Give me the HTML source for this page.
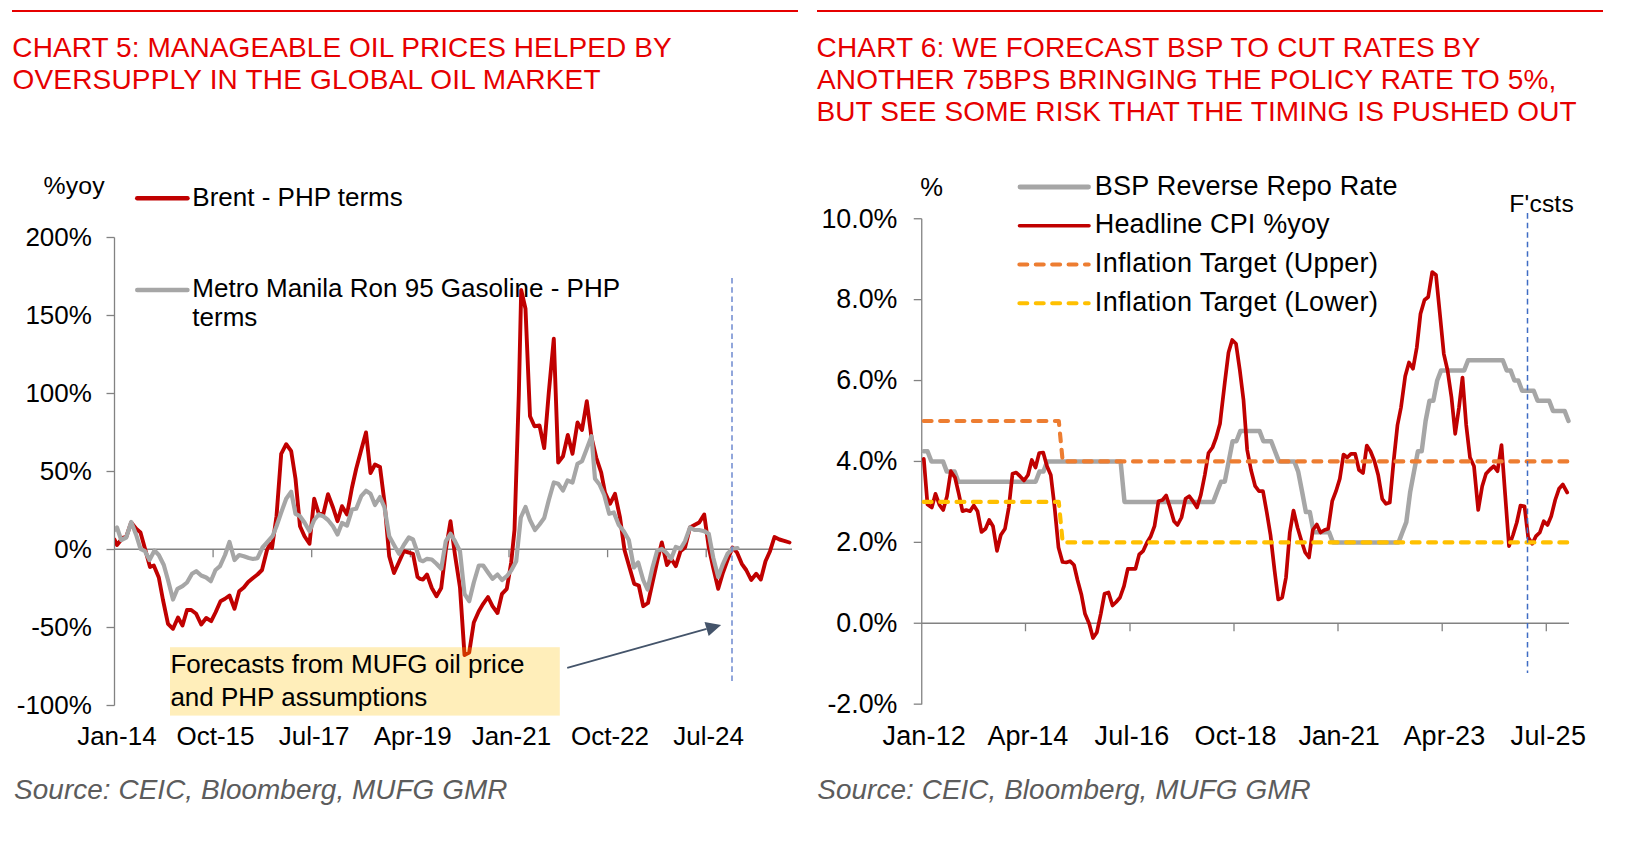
<!DOCTYPE html>
<html lang="en"><head><meta charset="utf-8"><title>Charts 5 and 6</title>
<style>
html,body{margin:0;padding:0;background:#fff;}
body{width:1628px;height:842px;overflow:hidden;font-family:"Liberation Sans",Arial,sans-serif;}
svg{display:block;}
text{font-family:"Liberation Sans",Arial,sans-serif;}
.t{fill:#e60000;}
.c{fill:#000;}
.s{fill:#5c5c5c;font-style:italic;}
.ax{stroke:#828282;stroke-width:1.3;fill:none;}
.ln{fill:none;stroke-linejoin:round;stroke-linecap:round;}
</style></head><body>
<svg width="1628" height="842" viewBox="0 0 1628 842">
<rect width="1628" height="842" fill="#fff"/>

<rect x="12" y="10" width="786" height="2" fill="#e60000"/>
<rect x="817" y="10" width="786" height="2" fill="#e60000"/>
<text class="t" x="12.33" y="56.80" font-size="28" textLength="659.29">CHART 5: MANAGEABLE OIL PRICES HELPED BY</text>
<text class="t" x="12.42" y="88.70" font-size="28" textLength="588.12">OVERSUPPLY IN THE GLOBAL OIL MARKET</text>
<text class="t" x="816.48" y="56.80" font-size="28" textLength="663.84">CHART 6: WE FORECAST BSP TO CUT RATES BY</text>
<text class="t" x="816.95" y="88.70" font-size="28" textLength="739.37">ANOTHER 75BPS BRINGING THE POLICY RATE TO 5%,</text>
<text class="t" x="816.40" y="120.70" font-size="28" textLength="760.24">BUT SEE SOME RISK THAT THE TIMING IS PUSHED OUT</text>
<path class="ax" d="M114.5,237.5V705.5"/>
<path class="ax" d="M114.5,549.25H792"/>
<path class="ax" d="M106.5,237.5H114.5"/>
<text class="c" x="91.90" y="246.10" font-size="26" text-anchor="end">200%</text>
<path class="ax" d="M106.5,315.5H114.5"/>
<text class="c" x="91.90" y="324.10" font-size="26" text-anchor="end">150%</text>
<path class="ax" d="M106.5,393.5H114.5"/>
<text class="c" x="91.90" y="402.10" font-size="26" text-anchor="end">100%</text>
<path class="ax" d="M106.5,471.5H114.5"/>
<text class="c" x="91.90" y="480.10" font-size="26" text-anchor="end">50%</text>
<path class="ax" d="M106.5,549.5H114.5"/>
<text class="c" x="91.90" y="558.10" font-size="26" text-anchor="end">0%</text>
<path class="ax" d="M106.5,627.5H114.5"/>
<text class="c" x="91.90" y="636.10" font-size="26" text-anchor="end">-50%</text>
<path class="ax" d="M106.5,705.5H114.5"/>
<text class="c" x="91.90" y="714.10" font-size="26" text-anchor="end">-100%</text>
<text class="c" x="116.90" y="744.60" font-size="26" text-anchor="middle">Jan-14</text>
<path class="ax" d="M213.1,549.25v8"/>
<text class="c" x="215.52" y="744.60" font-size="26" text-anchor="middle">Oct-15</text>
<path class="ax" d="M311.7,549.25v8"/>
<text class="c" x="314.14" y="744.60" font-size="26" text-anchor="middle">Jul-17</text>
<path class="ax" d="M410.4,549.25v8"/>
<text class="c" x="412.76" y="744.60" font-size="26" text-anchor="middle">Apr-19</text>
<path class="ax" d="M509.0,549.25v8"/>
<text class="c" x="511.38" y="744.60" font-size="26" text-anchor="middle">Jan-21</text>
<path class="ax" d="M607.6,549.25v8"/>
<text class="c" x="610.00" y="744.60" font-size="26" text-anchor="middle">Oct-22</text>
<path class="ax" d="M706.2,549.25v8"/>
<text class="c" x="708.62" y="744.60" font-size="26" text-anchor="middle">Jul-24</text>
<text class="c" x="43.62" y="193.90" font-size="24.8" textLength="60.93">%yoy</text>
<path class="ln" stroke="#c00000" stroke-width="4.4" d="M137.2,198.3H187.5"/>
<text class="c" x="192.30" y="205.80" font-size="26" text-anchor="start">Brent - PHP terms</text>
<path class="ln" stroke="#a6a6a6" stroke-width="4.4" d="M137.2,290H187.5"/>
<text class="c" x="192.30" y="297.00" font-size="26" text-anchor="start">Metro Manila Ron 95 Gasoline - PHP</text>
<text class="c" x="192.30" y="326.40" font-size="26" text-anchor="start">terms</text>
<clipPath id="cl"><rect x="114.9" y="200" width="700" height="520"/></clipPath>
<g clip-path="url(#cl)"><polyline class="ln" stroke="#c00000" stroke-width="3.9" points="114.5,539.5 117.0,545.0 122.5,538.0 126.2,537.0 131.2,522.5 136.2,528.8 140.5,532.5 145.0,548.8 150.0,567.0 153.8,565.5 158.8,577.5 163.0,600.0 168.0,623.8 173.0,628.8 178.0,617.5 182.5,625.5 187.0,610.0 191.2,610.0 196.2,613.8 201.2,624.5 206.2,618.0 211.2,621.2 215.5,612.5 220.5,601.2 225.0,598.8 229.5,595.5 234.5,608.8 239.2,591.2 243.8,587.5 248.2,582.0 253.0,578.0 257.5,574.5 262.0,570.0 267.0,550.0 270.0,543.8 272.0,548.0 276.5,516.2 281.2,453.8 286.2,444.2 291.2,451.2 295.5,478.8 300.0,526.2 304.5,536.2 309.5,543.8 314.2,498.8 318.8,513.8 323.2,514.5 328.0,494.2 333.0,507.5 337.5,521.2 342.0,506.2 347.0,514.5 352.0,487.5 356.2,468.8 361.2,450.0 366.0,432.5 370.5,473.0 375.0,464.5 380.0,467.0 384.5,502.5 389.2,556.2 394.0,573.0 399.0,562.0 403.8,551.2 408.8,552.5 413.0,553.8 417.5,577.0 420.0,578.8 423.0,579.5 427.0,574.5 431.8,588.0 436.5,596.2 441.2,588.0 445.8,550.0 450.5,521.2 455.0,555.0 460.0,587.5 464.5,655.0 469.2,652.5 473.8,622.5 478.8,611.2 483.2,603.8 488.0,597.0 492.5,606.2 497.5,613.0 502.0,593.8 506.8,588.8 511.2,562.5 514.5,530.0 518.8,395.0 521.2,290.0 525.5,308.8 530.0,416.2 534.5,426.2 539.5,425.5 544.2,448.0 548.8,392.5 553.8,338.8 558.2,462.5 563.0,456.2 567.8,435.0 572.5,453.8 577.5,422.5 582.0,430.0 586.8,401.2 591.5,437.5 596.2,457.5 601.2,472.5 605.0,492.5 610.0,503.8 615.0,493.8 620.0,517.5 624.5,550.0 629.5,567.5 634.2,583.8 638.8,585.5 643.2,606.2 648.0,603.0 652.5,582.5 657.5,560.0 661.8,542.5 667.0,565.0 671.2,558.8 675.8,566.2 680.5,551.2 685.0,547.5 690.0,527.5 694.5,525.0 699.2,522.5 704.2,514.5 708.8,547.5 713.2,567.5 718.2,588.8 723.0,572.5 727.5,560.0 732.5,547.5 737.0,552.5 741.8,563.8 746.2,570.0 751.2,580.0 756.2,573.8 760.8,579.5 765.5,561.2 770.0,551.2 774.5,537.0 779.5,539.5 784.2,540.8 789.5,542.5"/>
<polyline class="ln" stroke="#a6a6a6" stroke-width="4.2" points="114.5,530.0 117.0,527.5 121.2,540.0 126.2,537.5 131.2,522.0 136.2,535.0 140.5,548.8 145.0,551.2 149.5,560.0 154.5,550.5 158.8,555.0 163.8,565.0 168.0,580.0 173.0,599.5 177.5,588.8 182.5,586.2 187.0,582.5 192.0,573.8 196.2,571.2 201.2,575.5 206.2,577.5 210.8,581.2 215.5,570.0 220.0,566.2 225.0,555.0 229.5,542.0 234.5,560.0 239.2,555.0 243.8,556.2 248.8,558.0 253.0,559.0 257.5,558.2 262.5,547.5 267.0,542.5 272.5,536.2 276.5,526.2 281.2,512.5 286.2,498.8 291.2,491.8 295.5,513.8 300.0,516.2 304.5,522.5 309.5,531.2 314.2,520.0 318.8,514.5 323.2,516.2 328.0,520.0 333.0,526.2 337.5,534.5 342.0,523.0 347.0,525.5 352.0,509.5 356.2,508.8 361.2,496.2 366.0,490.8 370.5,493.8 375.0,505.0 380.0,497.0 384.5,507.5 389.2,536.2 394.0,545.0 399.0,553.8 403.8,545.0 408.8,537.5 413.0,539.5 417.5,552.5 420.0,560.0 423.0,561.2 427.0,558.8 431.8,559.5 436.5,563.8 441.2,568.8 445.8,541.2 450.5,533.8 455.0,541.2 460.0,551.2 464.5,593.8 469.2,601.2 473.8,582.5 478.8,565.5 483.2,565.5 488.0,572.5 492.5,578.8 497.5,574.5 502.0,580.0 506.8,576.2 511.2,570.5 516.2,561.2 520.8,517.5 525.5,507.0 530.0,520.0 535.0,530.0 539.5,524.5 544.2,518.0 548.8,500.0 553.8,482.5 558.2,483.8 563.0,490.5 567.5,480.5 572.5,482.5 577.5,463.8 582.0,461.2 586.8,448.8 591.5,436.2 595.0,478.8 599.5,484.5 604.2,495.0 609.2,513.8 613.8,512.5 618.8,525.0 623.8,531.2 628.8,540.0 633.8,567.5 638.2,562.5 643.2,580.0 647.5,589.5 652.5,567.5 657.0,551.2 661.8,548.8 666.2,552.5 671.2,558.8 675.8,547.0 680.5,548.8 685.0,541.2 690.0,527.5 694.5,530.0 699.2,530.0 704.2,531.2 708.8,533.8 713.2,557.5 718.2,577.0 723.0,563.8 727.5,553.8 732.5,548.8 737.5,548.0"/></g>
<path d="M732,278V681" stroke="#6d89d0" stroke-width="1.5" stroke-dasharray="5.6 3.647" fill="none"/>
<rect x="170" y="647.2" width="389.8" height="68.4" fill="rgb(255,192,0)" fill-opacity="0.27"/>
<text class="c" x="170.40" y="673.00" font-size="26" text-anchor="start">Forecasts from MUFG oil price</text>
<text class="c" x="170.40" y="705.50" font-size="26" text-anchor="start">and PHP assumptions</text>
<path d="M567.2,667.9L706.6,628.9" stroke="#44546a" stroke-width="1.7" fill="none"/>
<path d="M721.1,624.9L704.5,621.9L708.7,636Z" fill="#44546a"/>
<text class="s" x="14.11" y="798.60" font-size="27.9" textLength="493.25">Source: CEIC, Bloomberg, MUFG GMR</text>
<path class="ax" d="M921.75,218.75V704.5"/>
<path class="ax" d="M921.75,623.25H1569"/>
<path class="ax" d="M913.75,218.75H921.75"/>
<text class="c" x="897.40" y="227.55" font-size="26.8" text-anchor="end">10.0%</text>
<path class="ax" d="M913.75,299.65H921.75"/>
<text class="c" x="897.40" y="308.45" font-size="26.8" text-anchor="end">8.0%</text>
<path class="ax" d="M913.75,380.55H921.75"/>
<text class="c" x="897.40" y="389.35" font-size="26.8" text-anchor="end">6.0%</text>
<path class="ax" d="M913.75,461.45H921.75"/>
<text class="c" x="897.40" y="470.25" font-size="26.8" text-anchor="end">4.0%</text>
<path class="ax" d="M913.75,542.35H921.75"/>
<text class="c" x="897.40" y="551.15" font-size="26.8" text-anchor="end">2.0%</text>
<path class="ax" d="M913.75,623.25H921.75"/>
<text class="c" x="897.40" y="632.05" font-size="26.8" text-anchor="end">0.0%</text>
<path class="ax" d="M913.75,704.15H921.75"/>
<text class="c" x="897.40" y="712.95" font-size="26.8" text-anchor="end">-2.0%</text>
<text class="c" x="882.58" y="744.60" font-size="27" textLength="83.28">Jan-12</text>
<path class="ax" d="M1025.5,623.25v8"/>
<text class="c" x="987.45" y="744.60" font-size="27" textLength="80.84">Apr-14</text>
<path class="ax" d="M1130.0,623.25v8"/>
<text class="c" x="1094.58" y="744.60" font-size="27" textLength="74.61">Jul-16</text>
<path class="ax" d="M1234.0,623.25v8"/>
<text class="c" x="1194.47" y="744.60" font-size="27" textLength="81.95">Oct-18</text>
<path class="ax" d="M1338.0,623.25v8"/>
<text class="c" x="1298.58" y="744.60" font-size="27" textLength="81.24">Jan-21</text>
<path class="ax" d="M1442.2,623.25v8"/>
<text class="c" x="1403.45" y="744.60" font-size="27" textLength="81.74">Apr-23</text>
<path class="ax" d="M1546.3,623.25v8"/>
<text class="c" x="1510.60" y="744.60" font-size="27" textLength="75.31">Jul-25</text>
<text class="c" x="920.29" y="195.70" font-size="25.6" textLength="23.42">%</text>
<polyline class="ln" stroke="#a6a6a6" stroke-width="4.5" points="923.7,451.3 927.5,451.3 931.4,461.4 935.3,461.4 939.1,461.4 943.0,461.4 946.8,471.6 950.7,471.6 954.6,471.6 958.4,481.7 962.3,481.7 966.2,481.7 970.0,481.7 973.9,481.7 977.7,481.7 981.6,481.7 985.5,481.7 989.3,481.7 993.2,481.7 997.0,481.7 1000.9,481.7 1004.8,481.7 1008.6,481.7 1012.5,481.7 1016.3,481.7 1020.2,481.7 1024.1,481.7 1027.9,481.7 1031.8,481.7 1035.6,481.7 1039.5,471.6 1043.4,471.6 1047.2,461.4 1051.1,461.4 1055.0,461.4 1058.8,461.4 1062.7,461.4 1066.5,461.4 1070.4,461.4 1074.3,461.4 1078.1,461.4 1082.0,461.4 1085.8,461.4 1089.7,461.4 1093.6,461.4 1097.4,461.4 1101.3,461.4 1105.1,461.4 1109.0,461.4 1112.9,461.4 1116.7,461.4 1120.6,461.4 1124.5,501.9 1128.3,501.9 1132.2,501.9 1136.0,501.9 1139.9,501.9 1143.8,501.9 1147.6,501.9 1151.5,501.9 1155.3,501.9 1159.2,501.9 1163.1,501.9 1166.9,501.9 1170.8,501.9 1174.6,501.9 1178.5,501.9 1182.4,501.9 1186.2,501.9 1190.1,501.9 1194.0,501.9 1197.8,501.9 1201.7,501.9 1205.5,501.9 1209.4,501.9 1213.3,501.9 1217.1,491.8 1221.0,481.7 1224.8,481.7 1228.7,461.4 1232.6,441.2 1236.4,441.2 1240.3,431.1 1244.1,431.1 1248.0,431.1 1251.9,431.1 1255.7,431.1 1259.6,431.1 1263.4,441.2 1267.3,441.2 1271.2,441.2 1275.0,451.3 1278.9,461.4 1282.8,461.4 1286.6,461.4 1290.5,461.4 1294.3,461.4 1298.2,471.6 1302.1,491.8 1305.9,512.0 1309.8,512.0 1313.6,532.2 1317.5,532.2 1321.4,532.2 1325.2,532.2 1329.1,532.2 1332.9,542.4 1336.8,542.4 1340.7,542.4 1344.5,542.4 1348.4,542.4 1352.3,542.4 1356.1,542.4 1360.0,542.4 1363.8,542.4 1367.7,542.4 1371.6,542.4 1375.4,542.4 1379.3,542.4 1383.1,542.4 1387.0,542.4 1390.9,542.4 1394.7,542.4 1398.6,542.4 1402.4,532.2 1406.3,522.1 1410.2,491.8 1414.0,471.6 1417.9,451.3 1421.7,451.3 1425.6,421.0 1429.5,400.8 1433.3,400.8 1437.2,380.5 1441.1,370.4 1444.9,370.4 1448.8,370.4 1452.6,370.4 1456.5,370.4 1460.4,370.4 1464.2,370.4 1468.1,360.3 1471.9,360.3 1475.8,360.3 1479.7,360.3 1483.5,360.3 1487.4,360.3 1491.2,360.3 1495.1,360.3 1499.0,360.3 1502.8,360.3 1506.7,370.4 1510.6,370.4 1514.4,380.5 1518.3,380.5 1522.1,390.7 1526.0,390.7 1529.9,390.7 1533.7,390.7 1537.6,400.8 1541.4,400.8 1545.3,400.8 1549.2,400.8 1553.0,410.9 1556.9,410.9 1560.7,410.9 1564.6,410.9 1568.5,421.0"/>
<polyline class="ln" stroke="#c00000" stroke-width="3.7" points="923.8,458.8 927.5,504.5 931.8,507.5 935.5,493.8 939.5,505.0 943.2,510.0 947.0,496.2 950.8,471.2 955.0,477.5 958.8,493.8 962.5,511.2 966.2,510.0 970.0,511.2 973.8,505.5 977.5,511.2 981.5,532.0 985.5,528.8 989.2,520.0 993.0,526.2 997.0,550.8 1000.8,535.0 1005.0,528.8 1008.8,507.5 1012.5,473.8 1016.2,472.5 1020.0,476.2 1024.0,480.5 1028.0,475.0 1031.8,460.0 1035.5,467.5 1039.2,453.0 1043.2,452.5 1047.0,466.2 1050.8,475.0 1054.5,506.2 1058.5,547.5 1062.5,562.0 1066.2,562.5 1070.0,561.2 1074.0,565.0 1077.5,580.0 1081.5,595.0 1085.0,613.8 1089.2,623.8 1093.0,638.0 1096.8,632.5 1100.8,613.8 1104.5,593.8 1108.5,592.5 1112.5,605.5 1116.2,602.0 1120.0,597.5 1124.0,586.2 1127.8,568.8 1131.5,568.8 1135.5,568.8 1139.2,554.5 1143.0,551.2 1147.0,542.5 1150.8,536.2 1154.5,526.2 1158.5,501.2 1162.5,500.0 1166.2,495.5 1170.0,507.5 1174.0,521.2 1177.5,525.0 1181.5,517.5 1185.5,498.8 1189.2,496.2 1193.0,501.2 1197.0,507.5 1200.8,495.0 1204.8,475.0 1208.5,453.0 1212.5,447.5 1216.2,437.5 1220.0,423.8 1221.0,415.0 1224.8,382.5 1228.5,352.5 1232.2,340.0 1236.0,343.8 1239.8,370.0 1243.5,400.0 1247.2,450.0 1251.0,470.0 1255.2,486.2 1259.0,491.2 1263.0,491.2 1266.8,512.5 1270.5,535.0 1274.5,570.0 1278.2,599.5 1282.2,597.5 1286.0,577.5 1289.8,532.5 1293.5,510.5 1297.5,527.5 1301.2,540.0 1305.2,552.5 1309.0,557.5 1312.8,530.0 1316.8,524.5 1320.5,532.5 1324.5,530.0 1328.2,528.8 1332.2,501.2 1336.0,491.2 1339.8,478.8 1343.5,454.5 1347.2,457.5 1351.0,453.8 1355.2,453.8 1359.0,470.0 1363.0,473.0 1366.8,445.5 1370.5,451.2 1374.5,461.2 1378.2,475.0 1382.2,498.8 1386.0,503.8 1389.8,502.5 1393.5,462.5 1397.5,425.0 1401.0,407.5 1405.2,376.2 1409.0,362.5 1413.0,368.8 1416.8,347.5 1420.5,313.8 1424.5,300.0 1428.2,297.0 1432.2,272.0 1436.0,275.0 1440.0,315.0 1443.8,353.8 1447.5,370.0 1451.5,397.5 1455.2,433.8 1459.0,407.5 1462.5,377.5 1466.2,425.0 1470.0,457.5 1474.0,466.2 1478.2,510.0 1482.2,486.2 1486.0,473.8 1490.0,469.5 1493.8,466.2 1497.5,471.2 1501.5,445.0 1505.2,495.0 1509.0,546.2 1513.0,535.0 1516.8,522.5 1520.5,505.5 1524.5,506.2 1528.2,537.5 1532.2,543.8 1536.0,536.2 1539.8,532.5 1543.8,521.2 1547.5,525.0 1551.2,516.2 1555.2,500.0 1559.0,488.8 1562.8,484.5 1567.2,492.5"/>
<polyline class="ln" stroke="#ed7d31" stroke-width="4.1" stroke-dasharray="7.9 8.5" points="923.7,421.0 927.5,421.0 931.4,421.0 935.3,421.0 939.1,421.0 943.0,421.0 946.8,421.0 950.7,421.0 954.6,421.0 958.4,421.0 962.3,421.0 966.2,421.0 970.0,421.0 973.9,421.0 977.7,421.0 981.6,421.0 985.5,421.0 989.3,421.0 993.2,421.0 997.0,421.0 1000.9,421.0 1004.8,421.0 1008.6,421.0 1012.5,421.0 1016.3,421.0 1020.2,421.0 1024.1,421.0 1027.9,421.0 1031.8,421.0 1035.6,421.0 1039.5,421.0 1043.4,421.0 1047.2,421.0 1051.1,421.0 1055.0,421.0 1058.8,421.0 1062.7,461.4 1066.5,461.4 1070.4,461.4 1074.3,461.4 1078.1,461.4 1082.0,461.4 1085.8,461.4 1089.7,461.4 1093.6,461.4 1097.4,461.4 1101.3,461.4 1105.1,461.4 1109.0,461.4 1112.9,461.4 1116.7,461.4 1120.6,461.4 1124.5,461.4 1128.3,461.4 1132.2,461.4 1136.0,461.4 1139.9,461.4 1143.8,461.4 1147.6,461.4 1151.5,461.4 1155.3,461.4 1159.2,461.4 1163.1,461.4 1166.9,461.4 1170.8,461.4 1174.6,461.4 1178.5,461.4 1182.4,461.4 1186.2,461.4 1190.1,461.4 1194.0,461.4 1197.8,461.4 1201.7,461.4 1205.5,461.4 1209.4,461.4 1213.3,461.4 1217.1,461.4 1221.0,461.4 1224.8,461.4 1228.7,461.4 1232.6,461.4 1236.4,461.4 1240.3,461.4 1244.1,461.4 1248.0,461.4 1251.9,461.4 1255.7,461.4 1259.6,461.4 1263.4,461.4 1267.3,461.4 1271.2,461.4 1275.0,461.4 1278.9,461.4 1282.8,461.4 1286.6,461.4 1290.5,461.4 1294.3,461.4 1298.2,461.4 1302.1,461.4 1305.9,461.4 1309.8,461.4 1313.6,461.4 1317.5,461.4 1321.4,461.4 1325.2,461.4 1329.1,461.4 1332.9,461.4 1336.8,461.4 1340.7,461.4 1344.5,461.4 1348.4,461.4 1352.3,461.4 1356.1,461.4 1360.0,461.4 1363.8,461.4 1367.7,461.4 1371.6,461.4 1375.4,461.4 1379.3,461.4 1383.1,461.4 1387.0,461.4 1390.9,461.4 1394.7,461.4 1398.6,461.4 1402.4,461.4 1406.3,461.4 1410.2,461.4 1414.0,461.4 1417.9,461.4 1421.7,461.4 1425.6,461.4 1429.5,461.4 1433.3,461.4 1437.2,461.4 1441.1,461.4 1444.9,461.4 1448.8,461.4 1452.6,461.4 1456.5,461.4 1460.4,461.4 1464.2,461.4 1468.1,461.4 1471.9,461.4 1475.8,461.4 1479.7,461.4 1483.5,461.4 1487.4,461.4 1491.2,461.4 1495.1,461.4 1499.0,461.4 1502.8,461.4 1506.7,461.4 1510.6,461.4 1514.4,461.4 1518.3,461.4 1522.1,461.4 1526.0,461.4 1529.9,461.4 1533.7,461.4 1537.6,461.4 1541.4,461.4 1545.3,461.4 1549.2,461.4 1553.0,461.4 1556.9,461.4 1560.7,461.4 1564.6,461.4 1568.5,461.4"/>
<polyline class="ln" stroke="#ffc000" stroke-width="4.1" stroke-dasharray="7.9 8.5" points="923.7,501.9 927.5,501.9 931.4,501.9 935.3,501.9 939.1,501.9 943.0,501.9 946.8,501.9 950.7,501.9 954.6,501.9 958.4,501.9 962.3,501.9 966.2,501.9 970.0,501.9 973.9,501.9 977.7,501.9 981.6,501.9 985.5,501.9 989.3,501.9 993.2,501.9 997.0,501.9 1000.9,501.9 1004.8,501.9 1008.6,501.9 1012.5,501.9 1016.3,501.9 1020.2,501.9 1024.1,501.9 1027.9,501.9 1031.8,501.9 1035.6,501.9 1039.5,501.9 1043.4,501.9 1047.2,501.9 1051.1,501.9 1055.0,501.9 1058.8,501.9 1062.7,542.4 1066.5,542.4 1070.4,542.4 1074.3,542.4 1078.1,542.4 1082.0,542.4 1085.8,542.4 1089.7,542.4 1093.6,542.4 1097.4,542.4 1101.3,542.4 1105.1,542.4 1109.0,542.4 1112.9,542.4 1116.7,542.4 1120.6,542.4 1124.5,542.4 1128.3,542.4 1132.2,542.4 1136.0,542.4 1139.9,542.4 1143.8,542.4 1147.6,542.4 1151.5,542.4 1155.3,542.4 1159.2,542.4 1163.1,542.4 1166.9,542.4 1170.8,542.4 1174.6,542.4 1178.5,542.4 1182.4,542.4 1186.2,542.4 1190.1,542.4 1194.0,542.4 1197.8,542.4 1201.7,542.4 1205.5,542.4 1209.4,542.4 1213.3,542.4 1217.1,542.4 1221.0,542.4 1224.8,542.4 1228.7,542.4 1232.6,542.4 1236.4,542.4 1240.3,542.4 1244.1,542.4 1248.0,542.4 1251.9,542.4 1255.7,542.4 1259.6,542.4 1263.4,542.4 1267.3,542.4 1271.2,542.4 1275.0,542.4 1278.9,542.4 1282.8,542.4 1286.6,542.4 1290.5,542.4 1294.3,542.4 1298.2,542.4 1302.1,542.4 1305.9,542.4 1309.8,542.4 1313.6,542.4 1317.5,542.4 1321.4,542.4 1325.2,542.4 1329.1,542.4 1332.9,542.4 1336.8,542.4 1340.7,542.4 1344.5,542.4 1348.4,542.4 1352.3,542.4 1356.1,542.4 1360.0,542.4 1363.8,542.4 1367.7,542.4 1371.6,542.4 1375.4,542.4 1379.3,542.4 1383.1,542.4 1387.0,542.4 1390.9,542.4 1394.7,542.4 1398.6,542.4 1402.4,542.4 1406.3,542.4 1410.2,542.4 1414.0,542.4 1417.9,542.4 1421.7,542.4 1425.6,542.4 1429.5,542.4 1433.3,542.4 1437.2,542.4 1441.1,542.4 1444.9,542.4 1448.8,542.4 1452.6,542.4 1456.5,542.4 1460.4,542.4 1464.2,542.4 1468.1,542.4 1471.9,542.4 1475.8,542.4 1479.7,542.4 1483.5,542.4 1487.4,542.4 1491.2,542.4 1495.1,542.4 1499.0,542.4 1502.8,542.4 1506.7,542.4 1510.6,542.4 1514.4,542.4 1518.3,542.4 1522.1,542.4 1526.0,542.4 1529.9,542.4 1533.7,542.4 1537.6,542.4 1541.4,542.4 1545.3,542.4 1549.2,542.4 1553.0,542.4 1556.9,542.4 1560.7,542.4 1564.6,542.4 1568.5,542.4"/>
<path class="ln" stroke="#a6a6a6" stroke-width="4.8" d="M1020,187H1088.5"/>
<path class="ln" stroke="#c00000" stroke-width="3.6" d="M1019.5,225.75H1089"/>
<path class="ln" stroke="#ed7d31" stroke-width="4.1" stroke-dasharray="7.9 8.5" d="M1019.4,264.5H1088.7"/>
<path class="ln" stroke="#ffc000" stroke-width="4.1" stroke-dasharray="7.9 8.5" d="M1019.4,303.25H1088.7"/>
<text class="c" x="1094.79" y="194.50" font-size="27" textLength="302.66">BSP Reverse Repo Rate</text>
<text class="c" x="1094.79" y="233.25" font-size="27" textLength="234.77">Headline CPI %yoy</text>
<text class="c" x="1094.81" y="272.00" font-size="27" textLength="283.12">Inflation Target (Upper)</text>
<text class="c" x="1094.81" y="310.75" font-size="27" textLength="283.12">Inflation Target (Lower)</text>
<text class="c" x="1509.28" y="211.80" font-size="24.6" textLength="64.41">F'csts</text>
<path d="M1527.5,213.1V673" stroke="#3f6cc4" stroke-width="1.5" stroke-dasharray="5.6 3.93" fill="none"/>
<text class="s" x="817.31" y="798.70" font-size="27.9" textLength="493.30">Source: CEIC, Bloomberg, MUFG GMR</text>
</svg></body></html>
